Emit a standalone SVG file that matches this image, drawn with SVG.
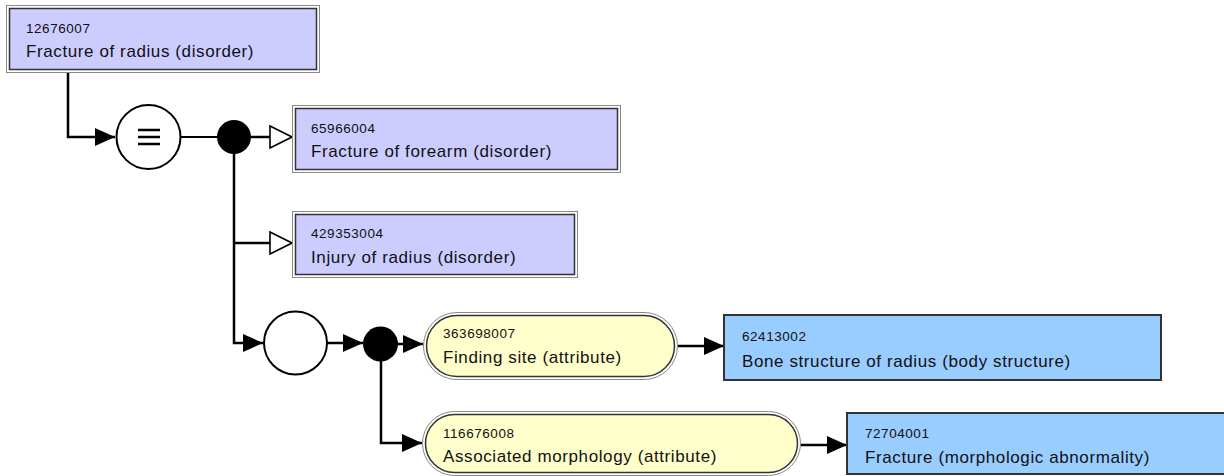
<svg xmlns="http://www.w3.org/2000/svg" width="1224" height="476" viewBox="0 0 1224 476">
<style>
.outer{fill:#fff;stroke:#888;stroke-width:1}
.concept{fill:#ccccff;stroke:#333;stroke-width:1.5}
.attr{fill:#ffffcc;stroke:#333;stroke-width:1.5}
.value{fill:#99ccff;stroke:#333;stroke-width:2}
.num{font-family:"Liberation Sans",Arial,sans-serif;font-size:13.5px;letter-spacing:0.55px;fill:#111}
.lbl{font-family:"Liberation Sans",Arial,sans-serif;font-size:17px;letter-spacing:0.6px;fill:#111}
.conn{fill:none;stroke:#000;stroke-width:2.5}
.thin{fill:none;stroke:#000;stroke-width:2}
</style>
<defs>
<marker id="arrow" viewBox="0 0 20 18" refX="20" refY="9" markerWidth="20" markerHeight="18" markerUnits="userSpaceOnUse" orient="auto">
<path d="M0,0 L20,9 L0,18 z" fill="#000"/>
</marker>
<marker id="isa" viewBox="-1 -1 24 24" refX="0" refY="11" markerWidth="24" markerHeight="24" markerUnits="userSpaceOnUse" orient="auto">
<path d="M0,0 L22,11 L0,22 z" fill="#fff" stroke="#000" stroke-width="1.6"/>
</marker>
</defs>

<g id="connectors">
<path class="conn" d="M68,72 V137 H115" marker-end="url(#arrow)"/>
<path class="thin" d="M181,137 H218"/>
<path class="conn" d="M250,137 H270" marker-end="url(#isa)"/>
<path class="conn" d="M234,150 V343 H263" marker-end="url(#arrow)"/>
<path class="conn" d="M234,243 H270" marker-end="url(#isa)"/>
<path class="conn" d="M327,343 H363" marker-end="url(#arrow)"/>
<path class="conn" d="M396,344 H423" marker-end="url(#arrow)"/>
<path class="conn" d="M381,360 V443 H422" marker-end="url(#arrow)"/>
<path class="conn" d="M677,346 H724" marker-end="url(#arrow)"/>
<path class="conn" d="M800,445 H847" marker-end="url(#arrow)"/>
</g>

<g id="equiv">
<circle cx="148.5" cy="137" r="32" fill="#fff" stroke="#000" stroke-width="2"/>
<path d="M138,130 H160 M138,137 H160 M138,144 H160" stroke="#000" stroke-width="2.6"/>
</g>
<g id="conj1">
<circle cx="234" cy="137" r="17" fill="#000"/>
</g>
<g id="group1">
<circle cx="295.5" cy="343" r="31.5" fill="#fff" stroke="#000" stroke-width="2"/>
</g>
<g id="conj2">
<circle cx="380.5" cy="344" r="17.5" fill="#000"/>
</g>

<g id="n12676007">
<rect class="outer" x="6.5" y="5.5" width="313" height="67"/>
<rect class="concept" x="9.5" y="8.5" width="307" height="61"/>
<text class="num" x="26" y="33">12676007</text>
<text class="lbl" x="26" y="57">Fracture of radius (disorder)</text>
</g>

<g id="n65966004">
<rect class="outer" x="292.5" y="105.5" width="328" height="67"/>
<rect class="concept" x="295.5" y="108.5" width="322" height="61"/>
<text class="num" x="311" y="133">65966004</text>
<text class="lbl" x="311" y="157">Fracture of forearm (disorder)</text>
</g>

<g id="n429353004">
<rect class="outer" x="292.5" y="211.5" width="285" height="66"/>
<rect class="concept" x="295.5" y="214.5" width="279" height="60"/>
<text class="num" x="311" y="238">429353004</text>
<text class="lbl" x="311" y="263">Injury of radius (disorder)</text>
</g>

<g id="n363698007">
<rect class="outer" x="423.5" y="312.5" width="254" height="67" rx="33.5"/>
<rect class="attr" x="426.5" y="315.5" width="248" height="61" rx="30.5"/>
<text class="num" x="443" y="338">363698007</text>
<text class="lbl" x="443" y="363">Finding site (attribute)</text>
</g>

<g id="n62413002">
<rect class="value" x="724" y="315" width="437" height="65"/>
<text class="num" x="742" y="341">62413002</text>
<text class="lbl" x="742" y="367">Bone structure of radius (body structure)</text>
</g>

<g id="n116676008">
<rect class="outer" x="422.5" y="411.5" width="378" height="64" rx="32"/>
<rect class="attr" x="425.5" y="414.5" width="372" height="58" rx="29"/>
<text class="num" x="443" y="438">116676008</text>
<text class="lbl" x="443" y="462">Associated morphology (attribute)</text>
</g>

<g id="n72704001">
<rect class="value" x="847" y="413" width="400" height="61"/>
<text class="num" x="865" y="438">72704001</text>
<text class="lbl" x="865" y="463">Fracture (morphologic abnormality)</text>
</g>
</svg>
